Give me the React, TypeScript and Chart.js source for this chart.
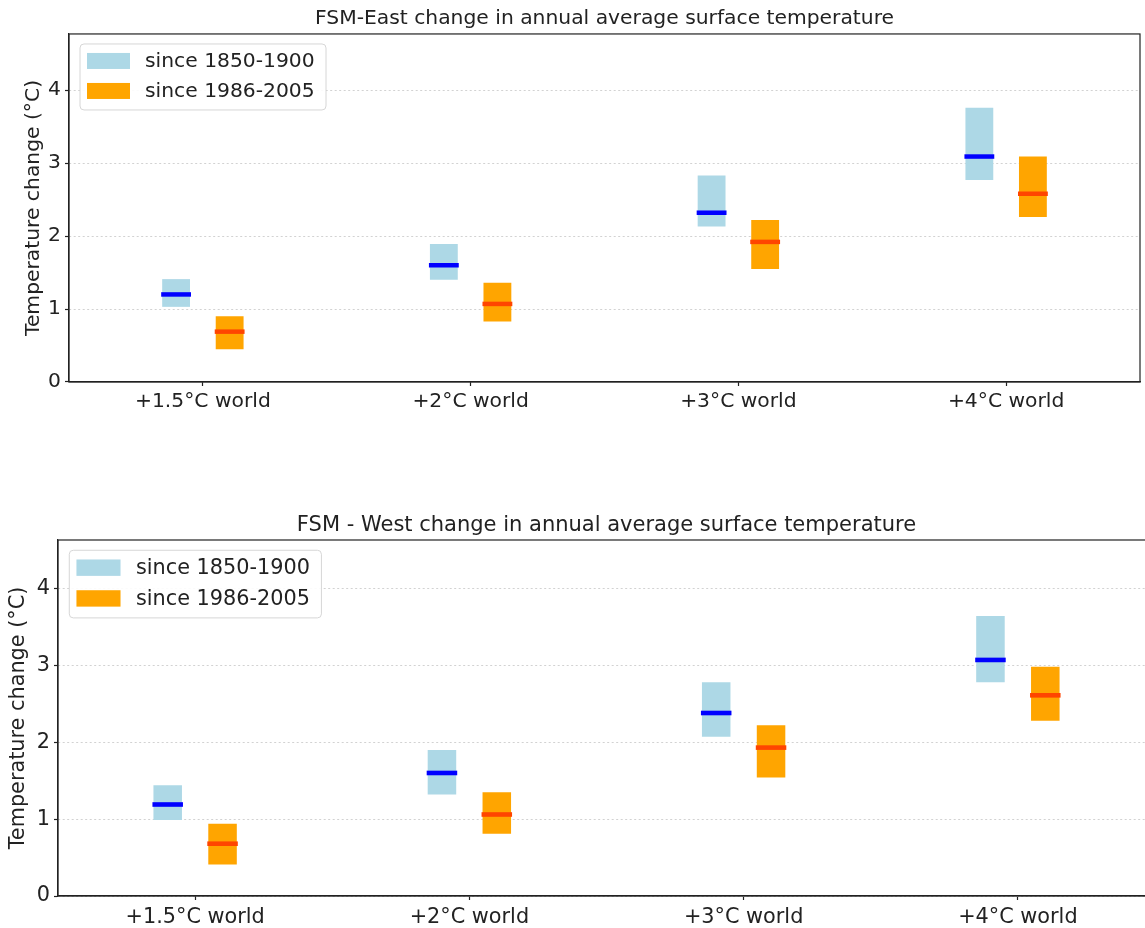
import { useEffect, useRef } from 'react';
import { Chart, ChartConfiguration, Plugin, registerables } from 'chart.js';

Chart.register(...registerables);

const categories = ['+1.5°C world', '+2°C world', '+3°C world', '+4°C world'];
const seriesLabels = ['since 1850-1900', 'since 1986-2005'];
const boxColors = ['#add8e6', '#ffa500'];
const medianColors = ['#0000ff', '#ff4500'];

// FSM-East, relative to 1850-1900
const eastPreLow = [1.03, 1.4, 2.13, 2.77];
const eastPreHigh = [1.41, 1.89, 2.83, 3.76];
const eastPreMedian = [1.2, 1.6, 2.32, 3.09];
// FSM-East, relative to 1986-2005
const eastRecentLow = [0.45, 0.83, 1.55, 2.26];
const eastRecentHigh = [0.9, 1.36, 2.22, 3.09];
const eastRecentMedian = [0.69, 1.07, 1.92, 2.58];

// FSM-West, relative to 1850-1900
const westPreLow = [0.99, 1.32, 2.07, 2.78];
const westPreHigh = [1.44, 1.9, 2.78, 3.64];
const westPreMedian = [1.19, 1.6, 2.38, 3.07];
// FSM-West, relative to 1986-2005
const westRecentLow = [0.41, 0.81, 1.54, 2.28];
const westRecentHigh = [0.94, 1.35, 2.22, 2.98];
const westRecentMedian = [0.68, 1.06, 1.93, 2.61];

const FONT = "'DejaVu Sans', sans-serif";
const TEXT = '#222';

interface RangeChartProps {
  title: string;
  lows: number[][];
  highs: number[][];
  medians: number[][];
  yMax: number;
  fontSize: number;
  titleSize: number;
  yAxisWidth: number;
  rightPad: number;
  titlePad: { top: number; bottom: number };
  yTitlePad: number;
  xTickPad: number;
  k: number;
  box: { left: number; top: number; width: number; height: number };
}

function RangeChart(props: RangeChartProps) {
  const canvasRef = useRef<HTMLCanvasElement>(null);
  const chartRef = useRef<Chart | null>(null);

  useEffect(() => {
    if (!canvasRef.current) return;
    if (chartRef.current) chartRef.current.destroy();
    const ctx = canvasRef.current.getContext('2d');
    if (!ctx) return;

    const { fontSize, k } = props;

    // median ticks drawn across each floating bar
    const medianPlugin: Plugin = {
      id: 'medianLines',
      afterDatasetsDraw(chart) {
        const c = chart.ctx;
        const y = chart.scales.y;
        c.save();
        c.lineWidth = 4.5 * k;
        props.medians.forEach((vals, d) => {
          const meta = chart.getDatasetMeta(d);
          c.strokeStyle = medianColors[d];
          meta.data.forEach((bar: any, i) => {
            const { x, width } = bar.getProps(['x', 'width'], true);
            const py = y.getPixelForValue(vals[i]);
            c.beginPath();
            c.moveTo(x - width / 2 - 1, py);
            c.lineTo(x + width / 2 + 1, py);
            c.stroke();
          });
        });
        c.restore();
      },
    };

    // axes frame plus matplotlib-like legend box
    const framePlugin: Plugin = {
      id: 'frameLegend',
      afterDraw(chart) {
        const c = chart.ctx;
        const a = chart.chartArea;
        c.save();
        c.strokeStyle = TEXT;
        c.lineWidth = 1.2;
        c.strokeRect(a.left, a.top, a.right - a.left, a.bottom - a.top);

        const bx = a.left + 11 * k;
        const by = a.top + 10 * k;
        const bw = 246 * k;
        const bh = 66 * k;
        c.beginPath();
        c.roundRect(bx, by, bw, bh, 4);
        c.fillStyle = 'rgba(255,255,255,0.9)';
        c.fill();
        c.strokeStyle = '#d6d6d6';
        c.lineWidth = 1;
        c.stroke();

        c.font = `${fontSize}px ${FONT}`;
        c.textBaseline = 'middle';
        c.textAlign = 'left';
        chart.data.datasets.forEach((ds, i) => {
          const cy = by + (17 + 30 * i) * k;
          c.fillStyle = ds.backgroundColor as string;
          c.fillRect(bx + 7 * k, cy - 8 * k, 43 * k, 16 * k);
          c.fillStyle = TEXT;
          c.fillText(ds.label as string, bx + 65 * k, cy + 1);
        });
        c.restore();
      },
    };

    const config: ChartConfiguration<'bar'> = {
      type: 'bar',
      data: {
        labels: categories,
        datasets: seriesLabels.map((label, d) => ({
          label,
          data: props.lows[d].map((lo, i) => [lo, props.highs[d][i]] as [number, number]),
          backgroundColor: boxColors[d],
          borderWidth: 0,
          borderSkipped: false,
          categoryPercentage: 0.4,
          barPercentage: 0.52,
        })),
      },
      options: {
        responsive: true,
        maintainAspectRatio: false,
        animation: false,
        layout: { padding: { left: 0, top: 0, right: props.rightPad, bottom: 0 } },
        plugins: {
          legend: { display: false },
          tooltip: { enabled: false },
          title: {
            display: true,
            fullSize: false,
            text: props.title,
            color: TEXT,
            font: { family: FONT, size: props.titleSize, weight: 'normal' },
            padding: props.titlePad,
          },
        },
        scales: {
          x: {
            type: 'category',
            offset: true,
            grid: {
              offset: false,
              drawOnChartArea: false,
              drawTicks: true,
              tickLength: 4,
              tickColor: TEXT,
              tickWidth: 1.2,
            },
            border: { display: true, color: TEXT, width: 1.2 },
            ticks: {
              color: TEXT,
              font: { family: FONT, size: fontSize },
              padding: props.xTickPad,
              maxRotation: 0,
              autoSkip: false,
            },
            afterFit: (s) => {
              s.height = 40;
            },
          },
          y: {
            min: 0,
            max: props.yMax,
            grid: {
              color: '#d2d2d2',
              lineWidth: 1,
              tickLength: 4,
              tickColor: TEXT,
              tickWidth: 1.2,
            },
            border: { display: true, color: TEXT, width: 1.2, dash: [2, 2.5] },
            ticks: {
              stepSize: 1,
              includeBounds: false,
              color: TEXT,
              padding: 4,
              font: { family: FONT, size: fontSize },
            },
            title: {
              display: true,
              text: 'Temperature change (°C)',
              color: TEXT,
              font: { family: FONT, size: fontSize },
              padding: { top: props.yTitlePad, bottom: 0 },
            },
            afterFit: (s) => {
              s.width = props.yAxisWidth;
            },
          },
        },
      },
      plugins: [medianPlugin, framePlugin],
    };

    chartRef.current = new Chart(ctx, config);

    return () => {
      if (chartRef.current) {
        chartRef.current.destroy();
        chartRef.current = null;
      }
    };
  }, [props]);

  return (
    <div
      style={{
        position: 'absolute',
        left: props.box.left,
        top: props.box.top,
        width: props.box.width,
        height: props.box.height,
      }}
    >
      <canvas ref={canvasRef}></canvas>
    </div>
  );
}

const eastProps: RangeChartProps = {
  title: 'FSM-East change in annual average surface temperature',
  lows: [eastPreLow, eastRecentLow],
  highs: [eastPreHigh, eastRecentHigh],
  medians: [eastPreMedian, eastRecentMedian],
  yMax: 4.77,
  fontSize: 20.3,
  titleSize: 20.3,
  yAxisWidth: 69,
  rightPad: 5,
  titlePad: { top: 6.3, bottom: 3.3 },
  yTitlePad: 21.3,
  xTickPad: 4,
  k: 1,
  box: { left: 0, top: 0, width: 1145, height: 422 },
};

// the lower panel runs past the right edge of the picture
const westProps: RangeChartProps = {
  title: 'FSM - West change in annual average surface temperature',
  lows: [westPreLow, westRecentLow],
  highs: [westPreHigh, westRecentHigh],
  medians: [westPreMedian, westRecentMedian],
  yMax: 4.63,
  fontSize: 20.8,
  titleSize: 21,
  yAxisWidth: 58,
  rightPad: 25,
  titlePad: { top: 6.5, bottom: 2.3 },
  yTitlePad: 5.8,
  xTickPad: 5.5,
  k: 1.025,
  box: { left: 0, top: 506, width: 1180, height: 430 },
};

export default function App() {
  return (
    <div
      style={{
        position: 'absolute',
        left: 0,
        top: 0,
        width: 1145,
        height: 928,
        overflow: 'hidden',
        background: '#fff',
      }}
    >
      <RangeChart {...eastProps} />
      <RangeChart {...westProps} />
    </div>
  );
}
